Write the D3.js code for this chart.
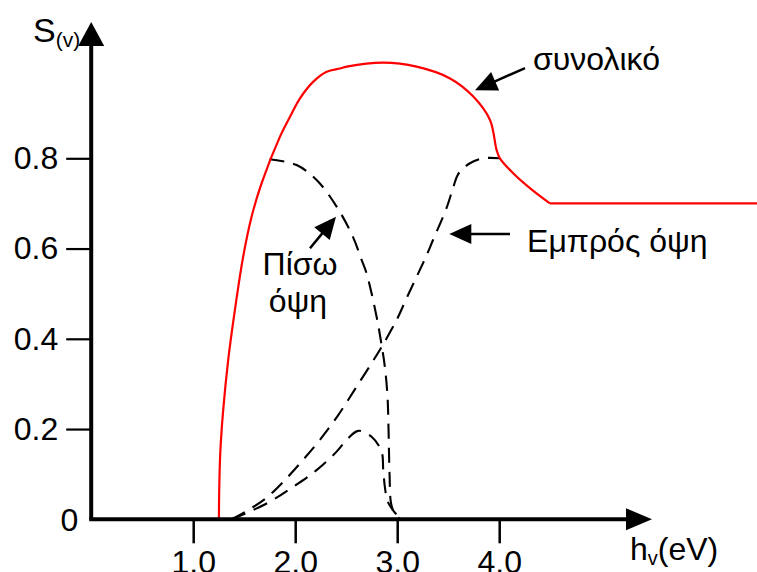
<!DOCTYPE html>
<html>
<head>
<meta charset="utf-8">
<script src="https://cdn.jsdelivr.net/npm/d3@7"></script>
<style>
  html, body { margin: 0; padding: 0; background: #fff; }
  svg { display: block; font-family: "Liberation Sans", Arial, sans-serif; }
</style>
</head>
<body>
<svg id="chart" width="757" height="572"></svg>
<script>
// ---- data ----
const xTicks = [1, 2, 3, 4];
const xTickLabels = ["1.0", "2.0", "3.0", "4.0"];
const yTicks = [0, 0.2, 0.4, 0.6, 0.8];
const yTickLabels = ["0", "0.2", "0.4", "0.6", "0.8"];

// total (συνολικό) – red solid
const totalCurve = [
  [1.252, 0], [1.2555, 0.07], [1.266, 0.150], [1.294, 0.242], [1.343, 0.353],
  [1.409, 0.464], [1.490, 0.582], [1.573, 0.671], [1.671, 0.745],
  [1.851, 0.848], [1.949, 0.892], [2.047, 0.933], [2.178, 0.970], [2.309, 0.992],
  [2.439, 0.999], [2.505, 1.003], [2.864, 1.012], [3.191, 1.003], [3.518, 0.977],
  [3.746, 0.937], [3.910, 0.885], [3.975, 0.818], [4.007, 0.800], [4.137, 0.767],
  [4.301, 0.734], [4.497, 0.700]
];
// flat tail of the total curve
const totalTail = [[4.497, 0.700], [6.60, 0.700]];
// back view (Πίσω όψη) – dashed
const backView = [
  [1.748, 0.798], [2.014, 0.785], [2.210, 0.752], [2.406, 0.693], [2.566, 0.626],
  [2.651, 0.575], [2.700, 0.545], [2.798, 0.449], [2.847, 0.386], [2.879, 0.338],
  [2.905, 0.272], [2.915, 0.200], [2.925, 0.100], [2.940, 0.035], [2.975, 0.012],
  [3.010, 0.004], [3.037, 0]
];
// front view (Εμπρός όψη) – dashed
const frontView = [
  [1.376, 0], [1.55, 0.022], [1.72, 0.048], [1.882, 0.083], [2.063, 0.128],
  [2.242, 0.176], [2.422, 0.231], [2.585, 0.288], [2.749, 0.346], [2.847, 0.382],
  [2.995, 0.442], [3.092, 0.490], [3.206, 0.545], [3.288, 0.585], [3.353, 0.620],
  [3.484, 0.690], [3.549, 0.735], [3.598, 0.765], [3.713, 0.789], [3.843, 0.800],
  [4.007, 0.800]
];
// small hump – dashed
const humpCurve = [
  [1.376, 0], [1.720, 0.035], [1.980, 0.072], [2.210, 0.109], [2.406, 0.150],
  [2.520, 0.180], [2.618, 0.196], [2.749, 0.183], [2.847, 0.150], [2.863, 0.110],
  [2.880, 0.070], [2.905, 0.040], [2.960, 0.020], [3.010, 0.007], [3.060, 0]
];

// ---- scales ----
const x = d3.scaleLinear().domain([1, 4]).range([193.2, 499.2]);
const y = d3.scaleLinear().domain([0, 0.8]).range([519.3, 158.3]);

const svg = d3.select("#chart");
const FS = 32;

// ---- curves ----
const lineCR = d3.line().x(d => x(d[0])).y(d => y(d[1])).curve(d3.curveCatmullRom.alpha(0.5));
const lineLin = d3.line().x(d => x(d[0])).y(d => y(d[1]));

[backView, frontView, humpCurve].forEach(data => {
  svg.append("path").datum(data).attr("d", lineCR)
    .attr("fill", "none").attr("stroke", "#000").attr("stroke-width", 2.1)
    .attr("stroke-dasharray", "15,9");
});
svg.append("path").datum(totalCurve).attr("d", lineCR)
  .attr("fill", "none").attr("stroke", "#ff0000").attr("stroke-width", 2.2);
svg.append("path").datum(totalTail).attr("d", lineLin)
  .attr("fill", "none").attr("stroke", "#ff0000").attr("stroke-width", 2.2);

// ---- axes ----
const x0 = x(0), y0 = y(0);
const xAxis = d3.axisBottom(x).tickValues(xTicks)
  .tickFormat((d, i) => xTickLabels[i]).tickSize(24).tickPadding(7);
const gx = svg.append("g").attr("transform", `translate(0,${y0})`).call(xAxis);
gx.select(".domain").remove();
gx.selectAll(".tick line").attr("stroke", "#000").attr("stroke-width", 2.5);
gx.selectAll(".tick text").attr("font-size", FS).attr("fill", "#000")
  .attr("font-family", "Liberation Sans, Arial, sans-serif");

const yAxis = d3.axisLeft(y).tickValues(yTicks)
  .tickFormat((d, i) => yTickLabels[i]).tickSize(25).tickPadding(8);
const gy = svg.append("g").attr("transform", `translate(${x0},0)`).call(yAxis);
gy.select(".domain").remove();
gy.selectAll(".tick line").attr("stroke", "#000").attr("stroke-width", 2.2);
gy.selectAll(".tick text").attr("font-size", FS).attr("fill", "#000")
  .attr("font-family", "Liberation Sans, Arial, sans-serif");
gy.selectAll(".tick").filter(d => d === 0).each(function () {
  d3.select(this).select("line").remove();
  d3.select(this).select("text").attr("x", -13).attr("dy", "0.36em");
});

// axis lines with arrow heads
svg.append("line").attr("x1", x0).attr("y1", y0).attr("x2", x0).attr("y2", 44)
  .attr("stroke", "#000").attr("stroke-width", 4);
svg.append("polygon")
  .attr("points", `${x0},22 ${x0 - 13},46 ${x0 + 13},46`).attr("fill", "#000");
svg.append("line").attr("x1", x0 - 2).attr("y1", y0).attr("x2", 628).attr("y2", y0)
  .attr("stroke", "#000").attr("stroke-width", 4);
svg.append("polygon")
  .attr("points", `652,${y0} 626,${y0 - 11} 626,${y0 + 11}`).attr("fill", "#000");

// axis titles
const sLab = svg.append("text").attr("x", 33).attr("y", 42).attr("fill", "#000");
sLab.append("tspan").attr("font-size", 34).text("S");
sLab.append("tspan").attr("font-size", 21).attr("dy", 5).text("(v)");

const hLab = svg.append("text").attr("x", 630).attr("y", 560).attr("fill", "#000");
hLab.append("tspan").attr("font-size", FS).text("h");
hLab.append("tspan").attr("font-size", 20).attr("dy", 5).text("v");
hLab.append("tspan").attr("font-size", FS).attr("dy", -5).text("(eV)");

// ---- annotations (positioned in data units) ----
function arrow(from, tip) {
  const [ax, ay] = [x(from[0]), y(from[1])];
  const [tx, ty] = [x(tip[0]), y(tip[1])];
  const dx = tx - ax, dy = ty - ay, len = Math.hypot(dx, dy);
  const ux = dx / len, uy = dy / len;
  const L = 22, W = 10;
  const bx = tx - ux * L, by = ty - uy * L;
  svg.append("line").attr("x1", ax).attr("y1", ay).attr("x2", bx + ux * 2).attr("y2", by + uy * 2)
    .attr("stroke", "#000").attr("stroke-width", 2.5);
  svg.append("polygon")
    .attr("points", `${tx},${ty} ${bx - uy * W},${by + ux * W} ${bx + uy * W},${by - ux * W}`)
    .attr("fill", "#000");
}
function label(txt, pos, anchor) {
  svg.append("text").attr("x", x(pos[0])).attr("y", y(pos[1]))
    .attr("font-size", FS).attr("fill", "#000").attr("text-anchor", anchor).text(txt);
}

arrow([4.253, 1.000], [3.763, 0.951]);
label("συνολικό", [4.332, 0.995], "start");

arrow([4.106, 0.632], [3.511, 0.632]);
label("Εμπρός όψη", [4.273, 0.593], "start");

arrow([2.145, 0.6006], [2.400, 0.6706]);
label("Πίσω", [2.047, 0.5414], "middle");
label("όψη", [2.027, 0.4594], "middle");
</script>
</body>
</html>
